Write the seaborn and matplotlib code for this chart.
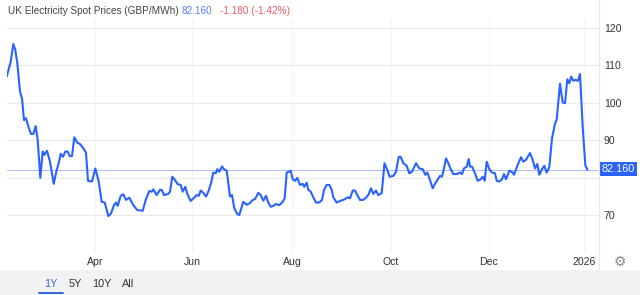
import matplotlib
matplotlib.use("Agg")
import matplotlib.pyplot as plt
import matplotlib.transforms as mtransforms
from matplotlib.patches import Rectangle
from matplotlib.lines import Line2D
import seaborn as sns
import pandas as pd

# ---- data (positions are trading-session positions along the 1Y axis) ----
pos = [6.7, 10.7, 13.3, 15.3, 17.3, 20, 22, 24, 26, 28.3, 31, 33.3, 35.7, 37.7, 40.3, 42.7, 44.3, 47, 50,
       53.7, 56.7, 58.7, 60.7, 63, 65.3, 67.7, 69.7, 72, 74.3, 77.3, 80, 83.3, 86, 88, 92, 95.3, 98.7,
       101.7, 104.7, 108.3, 111, 114, 116, 117.7, 120.7, 123.3, 126, 129.3, 133.3, 137.3, 142.7, 145.7,
       149.3, 151.7, 153.3, 156.7, 160, 161.7, 164, 168.3, 170, 172.3, 175, 177.7, 180.7, 182.7, 185.3,
       187.3, 190.7, 193.3, 196.7, 198.7, 200.7, 203.3, 206, 208.3, 211, 213.3, 215.7, 217.3, 219.3, 222,
       224, 226.7, 230, 232, 234.3, 237.3, 239.3, 243.3, 246.7, 250, 252.7, 255, 258.3, 260.7, 263.3,
       266, 268.3, 270.7, 273.3, 276, 279.3, 282.7, 284.7, 286.7, 288.7, 290.7, 292.7, 295, 297.3, 300,
       302.7, 304.3, 306.7, 308.3, 310.7, 313.3, 316, 319.3, 322, 324, 326.7, 329.3, 331.7, 333.3, 336.7,
       340.7, 343.3, 346, 348.3, 350, 352.7, 355, 357.3, 360, 363.3, 366, 368.3, 371, 373.3, 376, 378.3,
       381.7, 384.5, 387, 389.7, 393.3, 396, 398.7, 400.7, 403.3, 406.7, 409.3, 412, 416, 419.3, 422.7,
       425.3, 427.3, 430, 432.7, 435, 437.3, 440, 442, 444, 446, 448.3, 450.7, 453.3, 456.7, 460, 462,
       464, 466.7, 468.7, 470, 472, 475, 477.7, 480.7, 482.7, 484.7, 486.7, 489.3, 492, 495, 496.7, 499.3,
       502, 504, 506, 509.3, 512.7, 514, 517.3, 521, 523.3, 526, 530, 532.7, 535, 537.3, 539.3, 542,
       544.3, 546.7, 549.3, 552, 554.7, 556.7, 560, 562.7, 565, 567.3, 569.3, 571.3, 573.3, 575.3, 578,
       580, 582.7, 585.3, 587.3]
price = [107.0, 111.0, 115.7, 114.1, 110.6, 103.0, 101.2, 95.4, 95.9, 93.7, 91.7, 91.7, 93.8, 90.1, 80.0,
         87.0, 86.1, 87.2, 84.3, 78.4, 82.1, 83.9, 86.4, 85.6, 87.0, 87.0, 85.8, 85.8, 90.8, 89.4, 89.0,
         87.9, 86.7, 79.2, 79.0, 82.5, 79.0, 73.6, 73.4, 69.8, 70.5, 72.7, 73.4, 72.5, 75.2, 75.6, 74.1,
         74.7, 72.7, 71.4, 71.2, 74.1, 76.5, 76.3, 76.9, 75.4, 76.8, 76.8, 75.4, 75.7, 76.3, 80.3, 79.4,
         78.3, 78.1, 76.3, 77.6, 75.7, 73.8, 74.5, 75.4, 75.2, 76.6, 76.0, 75.0, 76.3, 78.5, 81.4, 81.2,
         82.3, 81.6, 83.0, 82.3, 81.9, 75.0, 75.4, 71.9, 70.3, 70.1, 73.6, 72.8, 73.3, 74.1, 74.3, 76.0,
         75.4, 73.9, 75.2, 73.4, 72.3, 72.5, 73.0, 72.7, 73.6, 74.5, 81.4, 81.6, 81.9, 79.6, 79.2, 80.0,
         78.1, 78.4, 77.6, 78.7, 76.8, 76.3, 74.8, 73.4, 73.4, 74.1, 76.8, 78.1, 78.1, 76.8, 74.8, 73.4,
         73.9, 74.1, 74.5, 74.8, 74.5, 76.6, 76.6, 75.4, 74.1, 74.1, 74.7, 75.4, 77.2, 75.7, 76.6, 75.4,
         75.9, 83.9, 82.3, 80.3, 80.5, 81.6, 85.6, 85.6, 83.9, 83.2, 81.2, 81.6, 83.9, 82.5, 82.3, 80.8,
         81.4, 79.4, 77.2, 78.4, 79.4, 80.5, 80.3, 82.5, 85.2, 83.9, 82.3, 81.0, 81.0, 81.4, 81.0, 82.5,
         83.0, 85.0, 83.0, 83.0, 81.2, 79.2, 79.6, 80.3, 79.2, 84.3, 82.3, 81.4, 81.2, 79.2, 79.0, 79.6,
         81.0, 79.6, 81.9, 81.4, 80.8, 83.2, 85.5, 84.3, 84.8, 86.6, 84.8, 82.5, 83.7, 80.8, 82.3, 83.2,
         81.4, 82.8, 90.5, 94.1, 95.6, 105.1, 100.1, 99.9, 106.3, 105.2, 107.0, 105.9, 106.1, 105.9,
         107.7, 93.6, 83.4, 82.16]
tick_pos = [95, 192, 292, 391, 489, 584]
tick_labels = ["Apr", "Jun", "Aug", "Oct", "Dec", "2026"]
y_ticks = [60, 70, 80, 90, 100, 110, 120]
y_labels = ["", "70", "", "90", "100", "110", "120"]  # 60 not labelled, 80 hidden behind price box
last_value = 82.160
change = "-1.180 (-1.42%)"
title = "UK Electricity Spot Prices (GBP/MWh)"
ranges = ["1Y", "5Y", "10Y", "All"]

df = pd.DataFrame({"pos": pos, "price": price})

sns.set_theme(style="white")
plt.rcParams["font.family"] = ["Liberation Sans", "DejaVu Sans"]

W, H = 640, 295
fig = plt.figure(figsize=(W / 100, H / 100), dpi=100)
fig.patch.set_facecolor("white")
ax = fig.add_axes([7 / W, 1 - 253 / H, 592 / W, 233 / H])
ax.set_facecolor("white")

BLUE = "#2962ff"
sns.lineplot(data=df, x="pos", y="price", ax=ax, color=BLUE, linewidth=1.5, zorder=3)
ax.axhline(last_value, color="#a9bcff", linewidth=0.7, zorder=2)

ax.set_xlim(7, 599)
ax.set_ylim(59.94, 122.1)
ax.set_xticks(tick_pos)
ax.set_xticklabels(tick_labels)
ax.set_yticks(y_ticks)
ax.set_yticklabels(y_labels)
ax.yaxis.tick_right()
ax.set_xlabel("")
ax.set_ylabel("")
ax.tick_params(axis="both", length=0, labelsize=7.6, colors="#333333")
ax.tick_params(axis="y", pad=3.5)
ax.tick_params(axis="x", pad=3.0)
ax.grid(True, axis="y", color="#ebebeb", linewidth=0.8)
ax.grid(True, axis="x", color="#f3f3f3", linewidth=0.8)
for s in ax.spines.values():
    s.set_visible(False)

# price box on right axis
blend = mtransforms.blended_transform_factory(fig.transFigure, ax.transData)
ax.add_patch(Rectangle((599.5 / W, last_value - 1.75), 37 / W, 3.75, transform=blend,
                       facecolor=BLUE, edgecolor="none", zorder=10, clip_on=False))
ax.text(618 / W, last_value + 0.15, f"{last_value:.3f}", transform=blend, color="white",
        fontsize=7.8, ha="center", va="center", zorder=11, clip_on=False)

# separator line
fig.add_artist(Line2D([599 / W, 599 / W], [1 - 270 / H, 1], color="#e8e8e8", linewidth=0.8))

# bottom band
fig.add_artist(Rectangle((0, 0), 1, 25 / H, facecolor="#f2f2f2", edgecolor="none",
                         transform=fig.transFigure))
btn_x = [51, 75, 102, 128]
for lab, bx in zip(ranges, btn_x):
    fig.text(bx / W, 1 - 284 / H, lab, ha="center", va="center", fontsize=7.8,
             color="#2f67d8" if lab == "1Y" else "#333333")
fig.add_artist(Line2D([39 / W, 63 / W], [1 - 293 / H, 1 - 293 / H], color="#2f67d8", linewidth=1.4))

# gear icon
fig.text(620 / W, 1 - 262 / H, "\u2699", ha="center", va="center", fontsize=10,
         color="#888888", family="DejaVu Sans")

# header
fig.canvas.draw()
r = fig.canvas.get_renderer()
t1 = fig.text(8 / W, 1 - 11 / H, title, fontsize=7.2, color="#444444", va="center")
bb = t1.get_window_extent(r)
t2 = fig.text((bb.x1 + 3) / W, 1 - 11 / H, f"{last_value:.3f}", fontsize=7.2,
              color="#5c7cff", va="center")
bb2 = t2.get_window_extent(r)
fig.text((bb2.x1 + 8) / W, 1 - 11 / H, change, fontsize=7.2, color="#f05a5a", va="center")

fig.savefig("out.png", dpi=100, facecolor="white")
